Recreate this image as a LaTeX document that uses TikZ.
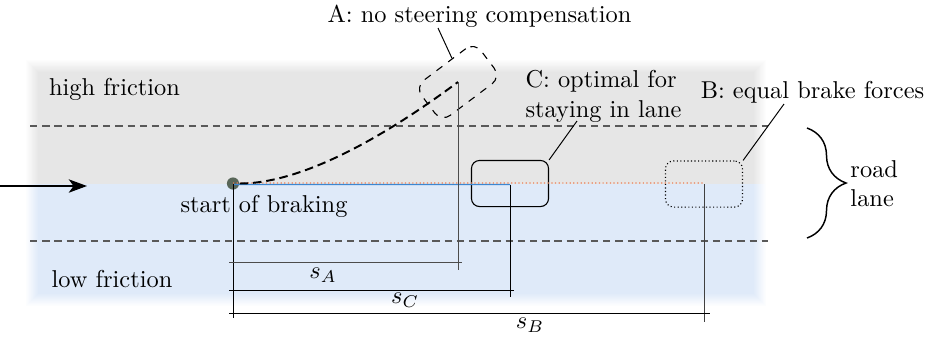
\documentclass[tikz,border=0pt]{standalone}
\usetikzlibrary{decorations.pathreplacing,arrows.meta,calc}
\definecolor{hiband}{RGB}{230,230,230}
\definecolor{loband}{RGB}{223,234,249}
\definecolor{dotcol}{RGB}{88,102,88}
\definecolor{bluepath}{RGB}{60,135,210}
\definecolor{orangepath}{RGB}{235,125,85}
\begin{document}
\begin{tikzpicture}[x=0.41pt,y=-0.41pt,
  lbl/.style={inner sep=0pt},
  laneline/.style={black!65, densely dashed, line width=0.5pt},
  carbox/.style={draw, rounded corners=3.3pt, minimum width=31.6pt, minimum height=18.9pt, inner sep=0pt, line width=0.45pt},
  dimline/.style={line width=0.35pt},
  pinline/.style={line width=0.4pt}]
\useasboundingbox (0,0) rectangle (930,337);

% friction bands with soft edges
\foreach \i in {0,...,12}{
  \pgfmathtruncatemacro{\p}{round(100*(\i+1)/13)}
  \fill[hiband!\p!white] (26+\i,60+\i) rectangle (766-\i,183.5);
  \fill[loband!\p!white] (26+\i,183.5) rectangle (766-\i,306-\i);
}

% lane lines
\draw[laneline] (30,126) -- (768,126);
\draw[laneline] (30,241) -- (768,241);

% texts
\node[lbl] (hi) at (114.5,89) {high friction};
\node[lbl] (lo) at (112,279.5) {low friction};
\node[lbl] (labA) at (479.5,16) {A: no steering compensation};
\node[lbl, align=left] (labC) at (603.5,96.5) {C: optimal for\\staying in lane};
\node[lbl] (labB) at (812.5,92) {B: equal brake forces};
\node[lbl, anchor=west, align=left] (road) at (850,184) {road\\lane};
\node[lbl] (sob) at (264,206) {start of braking};

% driving direction arrow
\coordinate (arrS) at (0,186);
\coordinate (arrE) at (87,186);
\draw[line width=0.5pt, -{Stealth[length=7.5pt,width=5.5pt,inset=2pt]}] (arrS) -- (arrE);

% vehicles
\node[carbox, dashed, rotate=37, minimum width=30.5pt, minimum height=18pt, rounded corners=4.5pt] (boxA) at (458,82) {};
\node[carbox] (boxC) at (510,183.5) {};
\node[carbox, densely dotted] (boxB) at (704,184) {};

% start point
\node[circle, fill=dotcol, inner sep=0pt, minimum size=5pt] (start) at (233,183.5) {};

% paths
\coordinate (cEnd) at (510,184.5);
\coordinate (bEnd) at (704,183);
\draw[bluepath, line width=0.55pt] ([yshift=-0.4pt]start.center) -- (cEnd);
\draw[orangepath, densely dotted, line width=0.5pt] ([yshift=0.2pt]start.center) -- (bEnd);
\draw[line width=0.8pt, dash pattern=on 3.5pt off 2pt] (start.east) .. controls (300,183.5) and (380,140) .. (boxA.center);

% vertical reference lines
\coordinate (st0) at (233,318);
\coordinate (a0) at (458,270);
\coordinate (c0) at (510,297);
\coordinate (b0) at (704,322);
\draw[dimline] (start.center) -- (st0);
\draw[dimline, black!70] (boxA.center) -- (a0);
\draw[dimline] (cEnd) -- (c0);
\draw[dimline, black!75] (boxB.center) -- (b0);

% dimension lines
\coordinate (dA1) at (229,262);
\coordinate (dA2) at (462,262);
\coordinate (dC1) at (229,290);
\coordinate (dC2) at (514,290);
\coordinate (dB1) at (229,313);
\coordinate (dB2) at (710,313);
\draw[dimline, black!70] (dA1) -- (dA2);
\draw[dimline] (dC1) -- (dC2);
\draw[dimline] (dB1) -- (dB2);
\node[lbl] (sA) at (323,275.5) {$s_A$};
\node[lbl] (sC) at (405,300) {$s_C$};
\node[lbl] (sB) at (530,325) {$s_B$};

% pins
\coordinate (pinA) at (438,28);
\coordinate (pinC) at (577,121);
\coordinate (pinB) at (784,104);
\draw[pinline] (pinA) -- ($(boxA.north)!0.25!(boxA.north east)$);
\draw[pinline] (pinC) -- (boxC.north east);
\draw[pinline] (pinB) -- (boxB.north east);

% brace
\coordinate (brT) at (807,128);
\coordinate (brB) at (807,238);
\draw[decorate, decoration={brace, amplitude=16pt}, line width=0.6pt] (brT) -- (brB);
\end{tikzpicture}
\end{document}
